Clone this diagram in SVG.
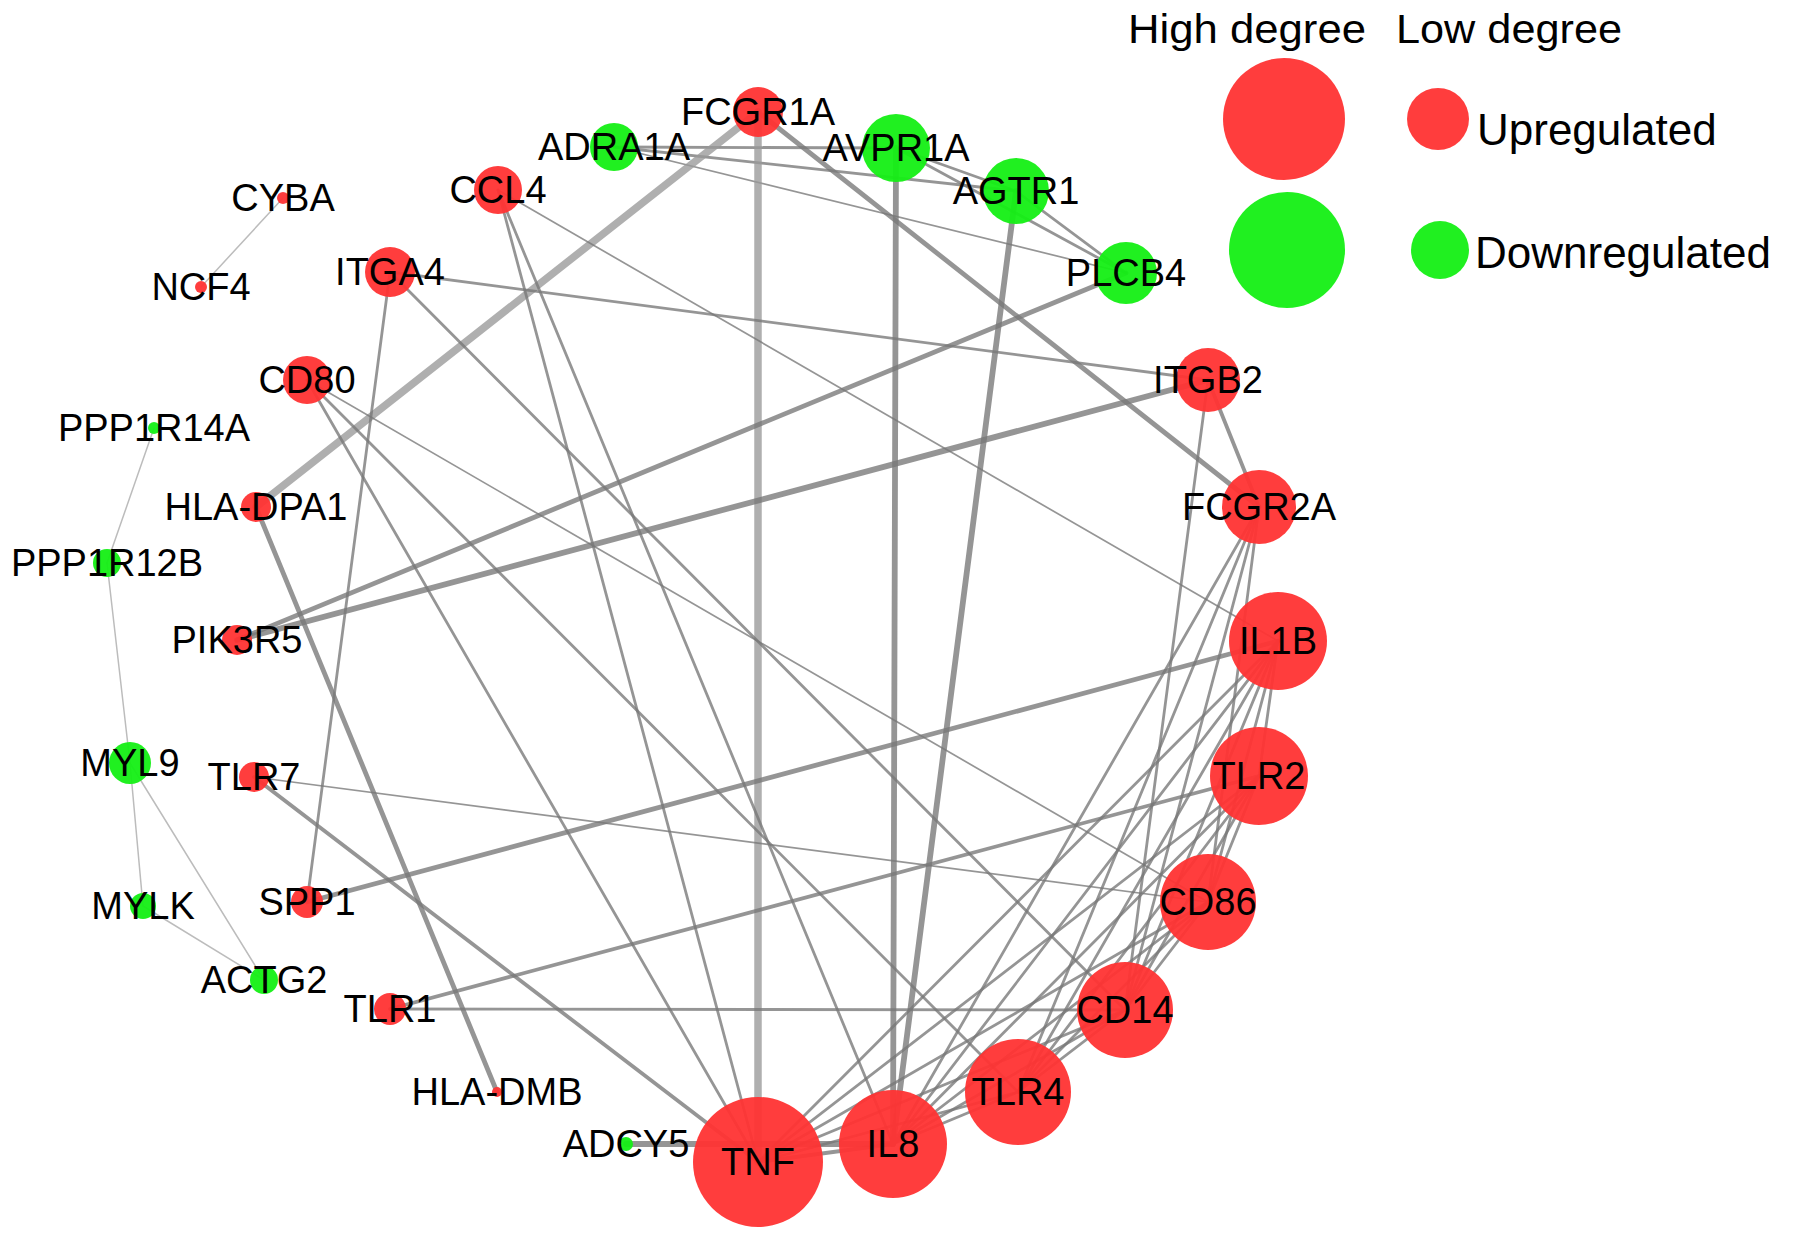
<svg xmlns="http://www.w3.org/2000/svg" width="1795" height="1240" viewBox="0 0 1795 1240">
<style>
.e{stroke:#777;stroke-opacity:.78;stroke-width:2.8;fill:none;stroke-linecap:round}
.t{stroke-width:1.7}
.w3{stroke-width:3.8}
.w4{stroke-width:4.8}
.w5{stroke-width:5.8}
.w7{stroke-width:7.5;stroke:#999}
.p{stroke:#b5b5b5;stroke-width:1.5;stroke-opacity:.9}
.up{fill:#ff3333;fill-opacity:.95}
.dn{fill:#14ef14;fill-opacity:.95}
text{font-family:"Liberation Sans",Arial,sans-serif;fill:#000}
.l{font-size:38px;text-anchor:middle}
.lg{font-size:44px}
</style>
<rect width="1795" height="1240" fill="#fff"/>
<g id="connectors">
<line class="e p" x1="283" y1="198" x2="201" y2="287"/>
<line class="e p" x1="154" y1="428" x2="107" y2="563"/>
<line class="e p" x1="107" y1="563" x2="130" y2="763"/>
<line class="e p" x1="130" y1="763" x2="143" y2="906"/>
<line class="e p" x1="130" y1="763" x2="264" y2="980"/>
<line class="e p" x1="143" y1="906" x2="264" y2="980"/>
<line class="e" x1="614" y1="147" x2="896" y2="148"/>
<line class="e" x1="614" y1="147" x2="1016" y2="191"/>
<line class="e t" x1="614" y1="147" x2="1126" y2="273"/>
<line class="e" x1="896" y1="148" x2="1016" y2="191"/>
<line class="e" x1="896" y1="148" x2="1126" y2="273"/>
<line class="e" x1="1016" y1="191" x2="1126" y2="273"/>
<line class="e w7" x1="758" y1="112" x2="758" y2="1162"/>
<line class="e w7" x1="758" y1="112" x2="256" y2="507"/>
<line class="e w4" x1="758" y1="112" x2="1259" y2="507"/>
<line class="e w5" x1="896" y1="148" x2="893" y2="1144"/>
<line class="e w5" x1="1016" y1="191" x2="893" y2="1144"/>
<line class="e w4" x1="1126" y1="273" x2="237" y2="640"/>
<line class="e w5" x1="1208" y1="380" x2="237" y2="640"/>
<line class="e" x1="390" y1="272" x2="1208" y2="380"/>
<line class="e" x1="390" y1="272" x2="307" y2="902"/>
<line class="e" x1="390" y1="272" x2="1125" y2="1010"/>
<line class="e" x1="498" y1="190" x2="758" y2="1162"/>
<line class="e" x1="498" y1="190" x2="893" y2="1144"/>
<line class="e t" x1="498" y1="190" x2="1278" y2="641"/>
<line class="e" x1="307" y1="380" x2="758" y2="1162"/>
<line class="e" x1="307" y1="380" x2="1018" y2="1092"/>
<line class="e t" x1="307" y1="380" x2="1208" y2="902"/>
<line class="e w4" x1="256" y1="507" x2="497" y2="1092"/>
<line class="e w3" x1="254" y1="777" x2="758" y2="1162"/>
<line class="e t" x1="254" y1="777" x2="1208" y2="902"/>
<line class="e w4" x1="307" y1="902" x2="1278" y2="641"/>
<line class="e" x1="390" y1="1009" x2="1125" y2="1010"/>
<line class="e w3" x1="390" y1="1009" x2="1259" y2="776"/>
<line class="e w5" x1="626" y1="1144" x2="893" y2="1144"/>
<line class="e w3" x1="1208" y1="380" x2="1259" y2="507"/>
<line class="e" x1="1208" y1="380" x2="1125" y2="1010"/>
<line class="e" x1="1259" y1="507" x2="1018" y2="1092"/>
<line class="e" x1="1259" y1="507" x2="1125" y2="1010"/>
<line class="e" x1="1259" y1="507" x2="1208" y2="902"/>
<line class="e" x1="1259" y1="507" x2="893" y2="1144"/>
<line class="e" x1="1278" y1="641" x2="758" y2="1162"/>
<line class="e" x1="1278" y1="641" x2="893" y2="1144"/>
<line class="e" x1="1278" y1="641" x2="1018" y2="1092"/>
<line class="e" x1="1278" y1="641" x2="1125" y2="1010"/>
<line class="e" x1="1278" y1="641" x2="1208" y2="902"/>
<line class="e" x1="1278" y1="641" x2="1259" y2="776"/>
<line class="e" x1="1259" y1="776" x2="758" y2="1162"/>
<line class="e" x1="1259" y1="776" x2="893" y2="1144"/>
<line class="e" x1="1259" y1="776" x2="1018" y2="1092"/>
<line class="e" x1="1259" y1="776" x2="1125" y2="1010"/>
<line class="e" x1="1259" y1="776" x2="1208" y2="902"/>
<line class="e" x1="1208" y1="902" x2="758" y2="1162"/>
<line class="e" x1="1208" y1="902" x2="893" y2="1144"/>
<line class="e" x1="1208" y1="902" x2="1018" y2="1092"/>
<line class="e" x1="1208" y1="902" x2="1125" y2="1010"/>
<line class="e" x1="1125" y1="1010" x2="758" y2="1162"/>
<line class="e" x1="1125" y1="1010" x2="893" y2="1144"/>
<line class="e" x1="1125" y1="1010" x2="1018" y2="1092"/>
<line class="e" x1="1018" y1="1092" x2="758" y2="1162"/>
<line class="e" x1="1018" y1="1092" x2="893" y2="1144"/>
<line class="e w3" x1="893" y1="1144" x2="758" y2="1162"/>
</g>
<g id="n-FCGR1A"><circle class="up" cx="758" cy="112" r="25"/><text class="l" x="758" y="125">FCGR1A</text></g>
<g id="n-ADRA1A"><circle class="dn" cx="614" cy="147" r="24"/><text class="l" x="614" y="160">ADRA1A</text></g>
<g id="n-AVPR1A"><circle class="dn" cx="896" cy="148" r="34"/><text class="l" x="896" y="161">AVPR1A</text></g>
<g id="n-AGTR1"><circle class="dn" cx="1016" cy="191" r="33"/><text class="l" x="1016" y="204">AGTR1</text></g>
<g id="n-PLCB4"><circle class="dn" cx="1126" cy="273" r="31"/><text class="l" x="1126" y="286">PLCB4</text></g>
<g id="n-CCL4"><circle class="up" cx="498" cy="190" r="24"/><text class="l" x="498" y="203">CCL4</text></g>
<g id="n-CYBA"><circle class="up" cx="283" cy="198" r="6"/><text class="l" x="283" y="211">CYBA</text></g>
<g id="n-NCF4"><circle class="up" cx="201" cy="287" r="6"/><text class="l" x="201" y="300">NCF4</text></g>
<g id="n-ITGA4"><circle class="up" cx="390" cy="272" r="25"/><text class="l" x="390" y="285">ITGA4</text></g>
<g id="n-CD80"><circle class="up" cx="307" cy="380" r="24"/><text class="l" x="307" y="393">CD80</text></g>
<g id="n-ITGB2"><circle class="up" cx="1208" cy="380" r="32"/><text class="l" x="1208" y="393">ITGB2</text></g>
<g id="n-PPP1R14A"><circle class="dn" cx="154" cy="428" r="6"/><text class="l" x="154" y="441">PPP1R14A</text></g>
<g id="n-HLA-DPA1"><circle class="up" cx="256" cy="507" r="15"/><text class="l" x="256" y="520">HLA-DPA1</text></g>
<g id="n-FCGR2A"><circle class="up" cx="1259" cy="507" r="37"/><text class="l" x="1259" y="520">FCGR2A</text></g>
<g id="n-PPP1R12B"><circle class="dn" cx="107" cy="563" r="14"/><text class="l" x="107" y="576">PPP1R12B</text></g>
<g id="n-PIK3R5"><circle class="up" cx="237" cy="640" r="15"/><text class="l" x="237" y="653">PIK3R5</text></g>
<g id="n-IL1B"><circle class="up" cx="1278" cy="641" r="49"/><text class="l" x="1278" y="654">IL1B</text></g>
<g id="n-MYL9"><circle class="dn" cx="130" cy="763" r="21"/><text class="l" x="130" y="776">MYL9</text></g>
<g id="n-TLR7"><circle class="up" cx="254" cy="777" r="15"/><text class="l" x="254" y="790">TLR7</text></g>
<g id="n-TLR2"><circle class="up" cx="1259" cy="776" r="49"/><text class="l" x="1259" y="789">TLR2</text></g>
<g id="n-MYLK"><circle class="dn" cx="143" cy="906" r="13"/><text class="l" x="143" y="919">MYLK</text></g>
<g id="n-SPP1"><circle class="up" cx="307" cy="902" r="16"/><text class="l" x="307" y="915">SPP1</text></g>
<g id="n-CD86"><circle class="up" cx="1208" cy="902" r="48"/><text class="l" x="1208" y="915">CD86</text></g>
<g id="n-ACTG2"><circle class="dn" cx="264" cy="980" r="14"/><text class="l" x="264" y="993">ACTG2</text></g>
<g id="n-TLR1"><circle class="up" cx="390" cy="1009" r="16"/><text class="l" x="390" y="1022">TLR1</text></g>
<g id="n-CD14"><circle class="up" cx="1125" cy="1010" r="48"/><text class="l" x="1125" y="1023">CD14</text></g>
<g id="n-HLA-DMB"><circle class="up" cx="497" cy="1092" r="5"/><text class="l" x="497" y="1105">HLA-DMB</text></g>
<g id="n-TLR4"><circle class="up" cx="1018" cy="1092" r="53"/><text class="l" x="1018" y="1105">TLR4</text></g>
<g id="n-ADCY5"><circle class="dn" cx="626" cy="1144" r="7"/><text class="l" x="626" y="1157">ADCY5</text></g>
<g id="n-IL8"><circle class="up" cx="893" cy="1144" r="54"/><text class="l" x="893" y="1157">IL8</text></g>
<g id="n-TNF"><circle class="up" cx="758" cy="1162" r="65"/><text class="l" x="758" y="1175">TNF</text></g>
<g id="legend">
<text class="lg" x="1128" y="43" textLength="238" lengthAdjust="spacingAndGlyphs" style="font-size:40px">High degree</text>
<text class="lg" x="1396" y="43" textLength="226" lengthAdjust="spacingAndGlyphs" style="font-size:40px">Low degree</text>
<circle class="up" cx="1284" cy="119" r="61"/>
<circle class="dn" cx="1287" cy="250" r="58"/>
<circle class="up" cx="1438" cy="119" r="31"/>
<circle class="dn" cx="1440" cy="250" r="29"/>
<text class="lg" x="1477" y="145">Upregulated</text>
<text class="lg" x="1475" y="268">Downregulated</text>
</g>
</svg>
